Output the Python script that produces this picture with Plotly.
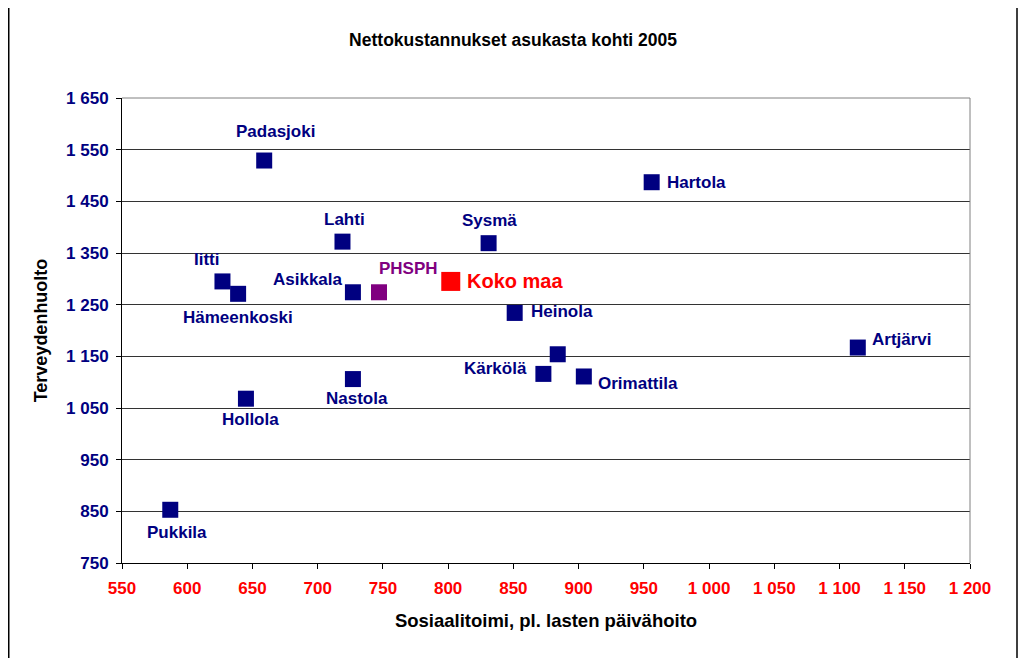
import plotly.graph_objects as go

# Data
kunnat = ["Padasjoki", "Hartola", "Lahti", "Sysmä", "Iitti", "Hämeenkoski", "Asikkala",
          "Heinola", "Artjärvi", "Kärkölä", "", "Orimattila", "Nastola", "Hollola", "Pukkila"]
sosiaalitoimi = [659, 956, 719, 831, 627, 639, 727, 851, 1114, 873, 884, 904, 727, 645, 587]
terveydenhuolto = [1529, 1487, 1372, 1369, 1295, 1271, 1274, 1234, 1167, 1116, 1154, 1111, 1106, 1068, 853]

phsph_label = ["PHSPH"]
phsph_x = [747]
phsph_y = [1274]

koko_label = ["Koko maa"]
koko_x = [802]
koko_y = [1295]

# label placement styles (xanchor, xshift px, yshift px)
label_style = {
    "Padasjoki": ("center", 11, 29),
    "Hartola": ("left", 13, 0),
    "Lahti": ("center", 2, 22),
    "Sysmä": ("center", 1, 23),
    "Iitti": ("center", -15, 22),
    "Hämeenkoski": ("center", 0, -24),
    "Asikkala": ("right", -8, 13),
    "Heinola": ("left", 14, 1),
    "Artjärvi": ("left", 12, 8),
    "Kärkölä": ("right", -14, 5),
    "Orimattila": ("left", 12, -7),
    "Nastola": ("center", 4, -19),
    "Hollola": ("center", 5, -21),
    "Pukkila": ("center", 7, -23),
}

NAVY = "#000080"
FONT = "Liberation Sans, Arial, sans-serif"
FS = 17

fig = go.Figure()
fig.add_trace(go.Scatter(x=sosiaalitoimi, y=terveydenhuolto, mode="markers",
                         marker=dict(symbol="square", size=16, color=NAVY),
                         hovertext=kunnat, showlegend=False))
fig.add_trace(go.Scatter(x=phsph_x, y=phsph_y, mode="markers",
                         marker=dict(symbol="square", size=16, color="#800080"),
                         showlegend=False))
fig.add_trace(go.Scatter(x=koko_x, y=koko_y, mode="markers",
                         marker=dict(symbol="square", size=19, color="#FF0000"),
                         showlegend=False))

annotations = []
for name, xv, yv in zip(kunnat, sosiaalitoimi, terveydenhuolto):
    if not name:
        continue
    xa, xs, ys = label_style[name]
    annotations.append(dict(x=xv, y=yv, text=f"<b>{name}</b>", showarrow=False,
                            xanchor=xa, yanchor="middle", xshift=xs, yshift=ys,
                            font=dict(family=FONT, size=FS, color=NAVY)))
annotations.append(dict(x=phsph_x[0], y=phsph_y[0], text=f"<b>{phsph_label[0]}</b>", showarrow=False,
                        xanchor="center", yanchor="middle", xshift=29, yshift=24,
                        font=dict(family=FONT, size=FS, color="#800080")))
annotations.append(dict(x=koko_x[0], y=koko_y[0], text=f"<b>{koko_label[0]}</b>", showarrow=False,
                        xanchor="left", yanchor="middle", xshift=14, yshift=0,
                        font=dict(family=FONT, size=20, color="#FF0000")))

W, H = 1026, 658
ML, MT, MR, MB = 114, 90, 64, 103
PW, PH = W - ML - MR, H - MT - MB

fig.update_layout(
    width=W, height=H,
    margin=dict(l=ML, r=MR, t=MT, b=MB),
    paper_bgcolor="white", plot_bgcolor="white",
    separators=", ",
    font=dict(family=FONT),
    title=dict(text="<b>Nettokustannukset asukasta kohti 2005</b>", x=(505 - 0) / W, xanchor="center",
               y=1 - 32 / H, yanchor="middle",
               font=dict(family=FONT, size=17.5, color="black")),
    annotations=annotations,
    xaxis=dict(range=[550, 1200], dtick=50, tick0=550, tickformat=",d",
               showgrid=False, zeroline=False,
               showline=True, linecolor="black", linewidth=1, mirror=False,
               ticks="outside", ticklen=5, tickcolor="black", ticklabelstandoff=5,
               tickfont=dict(family=FONT, size=FS, color="#FF0000", weight="bold"),
               title=dict(text="<b>Sosiaalitoimi, pl. lasten päivähoito</b>", standoff=16,
                          font=dict(family=FONT, size=18.5, color="black"))),
    yaxis=dict(range=[750, 1650], dtick=100, tick0=750, tickformat=",d",
               showgrid=True, gridcolor="#333333", gridwidth=1, zeroline=False,
               showline=True, linecolor="black", linewidth=1,
               ticks="outside", ticklen=5, tickcolor="black", ticklabelstandoff=4,
               tickfont=dict(family=FONT, size=FS, color=NAVY, weight="bold"),
               title=dict(text="<b>Terveydenhuolto</b>", standoff=13,
                          font=dict(family=FONT, size=18, color="black"))),
    shapes=[
        dict(type="line", xref="paper", yref="paper", x0=0, x1=1, y0=1, y1=1,
             line=dict(color="#808080", width=1)),
        dict(type="line", xref="paper", yref="paper", x0=1, x1=1, y0=0, y1=1,
             line=dict(color="#808080", width=1)),
        dict(type="rect", xref="paper", yref="paper",
             x0=(0.75 - ML) / PW, x1=(1009 - ML) / PW,
             y0=(PH + MT - 720) / PH, y1=(PH + MT + 4) / PH,
             line=dict(color="black", width=1.5), fillcolor="rgba(0,0,0,0)", layer="below"),
    ],
)

fig.write_html("out.html")
